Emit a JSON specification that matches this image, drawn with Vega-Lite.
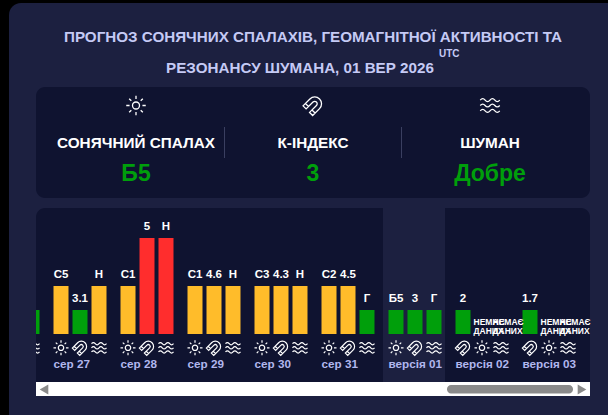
{
"$schema":"https://vega.github.io/schema/vega-lite/v6.json",
"width":608,"height":415,"padding":0,
"autosize":{"type":"fit","contains":"padding"},
"background":"#000000",
"config":{"view":{"stroke":null},"font":"Liberation Sans"},
"datasets":{
"one":[{}],
"readings":[
{"day":"сер 26","pos":"3","metric":"wave","level":1,"status":"ok","label":""},
{"day":"сер 27","pos":"1","metric":"sun","level":2,"status":"warn","label":"C5"},
{"day":"сер 27","pos":"2","metric":"magnet","level":1,"status":"ok","label":"3.1"},
{"day":"сер 27","pos":"3","metric":"wave","level":2,"status":"warn","label":"Н"},
{"day":"сер 28","pos":"1","metric":"sun","level":2,"status":"warn","label":"C1"},
{"day":"сер 28","pos":"2","metric":"magnet","level":4,"status":"high","label":"5"},
{"day":"сер 28","pos":"3","metric":"wave","level":4,"status":"high","label":"Н"},
{"day":"сер 29","pos":"1","metric":"sun","level":2,"status":"warn","label":"C1"},
{"day":"сер 29","pos":"2","metric":"magnet","level":2,"status":"warn","label":"4.6"},
{"day":"сер 29","pos":"3","metric":"wave","level":2,"status":"warn","label":"Н"},
{"day":"сер 30","pos":"1","metric":"sun","level":2,"status":"warn","label":"C3"},
{"day":"сер 30","pos":"2","metric":"magnet","level":2,"status":"warn","label":"4.3"},
{"day":"сер 30","pos":"3","metric":"wave","level":2,"status":"warn","label":"Н"},
{"day":"сер 31","pos":"1","metric":"sun","level":2,"status":"warn","label":"C2"},
{"day":"сер 31","pos":"2","metric":"magnet","level":2,"status":"warn","label":"4.5"},
{"day":"сер 31","pos":"3","metric":"wave","level":1,"status":"ok","label":"Г"},
{"day":"версія 01","pos":"1","metric":"sun","level":1,"status":"ok","label":"Б5"},
{"day":"версія 01","pos":"2","metric":"magnet","level":1,"status":"ok","label":"3"},
{"day":"версія 01","pos":"3","metric":"wave","level":1,"status":"ok","label":"Г"},
{"day":"версія 02","pos":"1","metric":"magnet","level":1,"status":"ok","label":"2"},
{"day":"версія 02","pos":"2","metric":"sun","level":0,"status":"none","label":"НЕМАЄ ДАНИХ"},
{"day":"версія 02","pos":"3","metric":"wave","level":0,"status":"none","label":"НЕМАЄ ДАНИХ"},
{"day":"версія 03","pos":"1","metric":"magnet","level":1,"status":"ok","label":"1.7"},
{"day":"версія 03","pos":"2","metric":"sun","level":0,"status":"none","label":"НЕМАЄ ДАНИХ"},
{"day":"версія 03","pos":"3","metric":"wave","level":0,"status":"none","label":"НЕМАЄ ДАНИХ"}
],
"days":[{"day":"сер 27"},{"day":"сер 28"},{"day":"сер 29"},{"day":"сер 30"},{"day":"сер 31"},{"day":"версія 01"},{"day":"версія 02"},{"day":"версія 03"}],
"summary":[
{"col":"sun","name":"СОНЯЧНИЙ СПАЛАХ","reading":"Б5","status":"ok"},
{"col":"magnet","name":"К-ІНДЕКС","reading":"3","status":"ok"},
{"col":"wave","name":"ШУМАН","reading":"Добре","status":"ok"}
]
},
"resolve":{"scale":{"x":"independent","y":"independent"}},
"layer":[
{"data":{"name":"one"},"mark":{"type":"rect","x":9,"x2":608,"y":3,"y2":415,"fill":"#1c2040","cornerRadiusTopLeft":12},"encoding":{}},
{"data":{"name":"one"},"mark":{"type":"rect","x":36,"x2":590,"y":87,"y2":198,"fill":"#0f1330","cornerRadius":9},"encoding":{}},
{"data":{"name":"one"},"mark":{"type":"rect","x":36,"x2":590,"y":208,"y2":390,"fill":"#0f1330","cornerRadius":9},"encoding":{}},
{"data":{"name":"one"},"mark":{"type":"rect","x":383,"x2":445,"y":208,"y2":382,"fill":"#1c2040"},"encoding":{}},
{"data":{"name":"one"},"mark":{"type":"rect","x":224,"x2":225,"y":127,"y2":158,"fill":"#3a3f60"},"encoding":{}},
{"data":{"name":"one"},"mark":{"type":"rect","x":401,"x2":402,"y":127,"y2":158,"fill":"#3a3f60"},"encoding":{}},
{
"data":{"name":"summary"},
"layer":[
{"mark":{"type":"text","fontSize":15.2,"fontWeight":"bold","color":"#c5caf5","baseline":"middle","text":"ПРОГНОЗ СОНЯЧНИХ СПАЛАХІВ, ГЕОМАГНІТНОЇ АКТИВНОСТІ ТА"},
 "transform":[{"filter":"datum.col === 'magnet'"}],
 "encoding":{"x":{"field":"col","type":"nominal","axis":null,"scale":{"type":"point","domain":["sun","magnet","wave"],"range":[136,490],"padding":0}},
 "y":{"datum":"t1","type":"nominal","axis":null,"scale":{"type":"point","domain":["t1","t2","icon","name","reading"],"range":[37,174],"padding":0}}}},
{"mark":{"type":"text","fontSize":15.2,"fontWeight":"bold","color":"#c5caf5","baseline":"middle","dx":-13,"dy":-3,"text":"РЕЗОНАНСУ ШУМАНА, 01 ВЕР 2026"},
 "transform":[{"filter":"datum.col === 'magnet'"}],
 "encoding":{"x":{"field":"col","type":"nominal"},"y":{"datum":"t2","type":"nominal"}}},
{"mark":{"type":"point","filled":false,"stroke":"#ffffff","strokeWidth":1.3,"opacity":1,"size":380,"dy":3.5},
 "encoding":{"x":{"field":"col","type":"nominal"},"y":{"datum":"icon","type":"nominal"},
 "shape":{"field":"col","type":"nominal","legend":null,"scale":{"domain":["sun","magnet","wave"],"range":[
 "M.36 0A.36 .36 0 1 1 -.36 0A.36 .36 0 1 1 .36 0ZM0 -1L0 -.66M0 1L0 .66M-1 0L-.66 0M1 0L.66 0M-.7 -.7L-.48 -.48M.7 -.7L.48 -.48M-.7 .7L-.48 .48M.7 .7L.48 .48",
 "M-1.025 .035L-.318 -.672A.7 .7 0 0 1 .672 .318L-.035 1.025L-.354 .707L.354 0A.25 .25 0 0 0 0 -.354L-.707 .354ZM-.778 -.212L-.46 .106M.212 .778L-.106 .46",
 "M-1 -.55Q-.75 -.85 -.5 -.55T0 -.55T.5 -.55T1 -.55M-1 0Q-.75 -.3 -.5 0T0 0T.5 0T1 0M-1 .55Q-.75 .25 -.5 .55T0 .55T.5 .55T1 .55"]}}}},
{"mark":{"type":"text","fontSize":15.3,"fontWeight":"bold","color":"#ffffff","baseline":"middle","dy":3},
 "encoding":{"x":{"field":"col","type":"nominal"},"y":{"datum":"name","type":"nominal"},"text":{"field":"name"}}},
{"mark":{"type":"text","fontSize":23,"fontWeight":"bold","baseline":"middle"},
 "encoding":{"x":{"field":"col","type":"nominal"},"y":{"datum":"reading","type":"nominal"},"text":{"field":"reading"},
 "color":{"field":"status","type":"nominal","legend":null,"scale":{"domain":["ok","warn","high"],"range":["#009f0b","#ffbc2a","#ff2d2d"]}}}}
]},
{"data":{"name":"one"},"mark":{"type":"text","x":439,"y":54,"text":"UTC","fontSize":10,"fontWeight":"bold","color":"#c5caf5","baseline":"middle","align":"left"},"encoding":{}},
{
"data":{"name":"readings"},
"layer":[
{"transform":[{"filter":"datum.level > 0"}],"mark":{"type":"bar"},
 "encoding":{
 "x":{"field":"day","type":"nominal","axis":null,"scale":{"type":"band","domain":["сер 26","сер 27","сер 28","сер 29","сер 30","сер 31","версія 01","версія 02","версія 03"],"range":[-13.5,589.5],"paddingInner":0,"paddingOuter":0}},
 "xOffset":{"field":"pos","type":"nominal","scale":{"type":"band","domain":["1","2","3"],"range":[0,53],"paddingInner":0.21,"paddingOuter":0}},
 "y":{"field":"level","type":"quantitative","axis":null,"scale":{"domain":[0,4],"range":[334,238],"nice":false}},
 "color":{"field":"status","type":"nominal","legend":null,"scale":{"domain":["ok","warn","high"],"range":["#009f0b","#ffbc2a","#ff2d2d"]}}}},
{"transform":[{"filter":"datum.level > 0"}],"mark":{"type":"text","fontSize":11.5,"fontWeight":"bold","color":"#ffffff","baseline":"middle","dy":-11},
 "encoding":{"x":{"field":"day","type":"nominal"},"xOffset":{"field":"pos","type":"nominal"},"y":{"field":"level","type":"quantitative"},"text":{"field":"label"}}},
{"transform":[{"filter":"datum.status === 'none'"}],"mark":{"type":"text","fontSize":8.5,"fontWeight":"bold","color":"#ffffff","align":"left","baseline":"middle","dx":-8.5,"dy":-12,"lineBreak":" ","lineHeight":8.5},
 "encoding":{"x":{"field":"day","type":"nominal"},"xOffset":{"field":"pos","type":"nominal"},"y":{"field":"level","type":"quantitative"},"text":{"field":"label"}}},
{"mark":{"type":"point","filled":false,"stroke":"#ffffff","strokeWidth":1.2,"opacity":1,"size":225},
 "encoding":{"x":{"field":"day","type":"nominal"},"xOffset":{"field":"pos","type":"nominal"},"y":{"datum":-0.575,"type":"quantitative"},
 "shape":{"field":"metric","type":"nominal","legend":null,"scale":{"domain":["sun","magnet","wave"],"range":[
 "M.36 0A.36 .36 0 1 1 -.36 0A.36 .36 0 1 1 .36 0ZM0 -1L0 -.66M0 1L0 .66M-1 0L-.66 0M1 0L.66 0M-.7 -.7L-.48 -.48M.7 -.7L.48 -.48M-.7 .7L-.48 .48M.7 .7L.48 .48",
 "M-1.025 .035L-.318 -.672A.7 .7 0 0 1 .672 .318L-.035 1.025L-.354 .707L.354 0A.25 .25 0 0 0 0 -.354L-.707 .354ZM-.778 -.212L-.46 .106M.212 .778L-.106 .46",
 "M-1 -.55Q-.75 -.85 -.5 -.55T0 -.55T.5 -.55T1 -.55M-1 0Q-.75 -.3 -.5 0T0 0T.5 0T1 0M-1 .55Q-.75 .25 -.5 .55T0 .55T.5 .55T1 .55"]}}}},
{"data":{"name":"days"},"mark":{"type":"text","fontSize":11.7,"fontWeight":"bold","color":"#b1b7ee","align":"left","baseline":"middle"},
 "encoding":{"x":{"field":"day","type":"nominal","bandPosition":0},"y":{"datum":-1.25,"type":"quantitative"},"text":{"field":"day"}}}
]},
{"data":{"name":"one"},"mark":{"type":"rect","x":9,"x2":36,"y":208,"y2":382,"fill":"#1c2040"},"encoding":{}},
{"data":{"name":"one"},"mark":{"type":"rect","x":36,"x2":590,"y":382,"y2":396,"fill":"#ffffff"},"encoding":{}},
{"data":{"name":"one"},"mark":{"type":"rect","x":447,"x2":573,"y":385,"y2":393.5,"fill":"#8a8a8a","cornerRadius":4},"encoding":{}},
{"data":{"name":"one"},"mark":{"type":"point","shape":"triangle-left","filled":true,"fill":"#8a8a8a","opacity":1,"x":44,"y":389.5,"size":100},"encoding":{}},
{"data":{"name":"one"},"mark":{"type":"point","shape":"triangle-right","filled":true,"fill":"#8a8a8a","opacity":1,"x":582,"y":389.5,"size":100},"encoding":{}}
]
}
